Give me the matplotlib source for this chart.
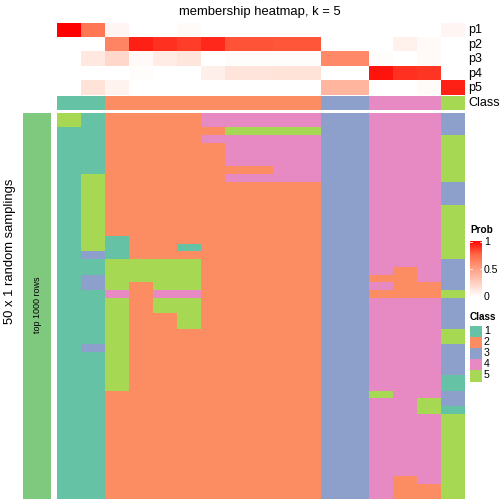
import numpy as np
import matplotlib
matplotlib.use("Agg")
import matplotlib.pyplot as plt
from matplotlib.colors import ListedColormap, LinearSegmentedColormap
from matplotlib.patches import Rectangle

plt.rcParams['font.family'] = ['Liberation Sans', 'DejaVu Sans']

# membership probabilities per sample (17 samples)
p1 = [1.0, 0.68, 0.05, 0, 0, 0.02, 0, 0, 0, 0, 0, 0, 0, 0, 0, 0, 0.05]
p2 = [0, 0, 0.62, 0.92, 0.88, 0.85, 0.9, 0.8, 0.8, 0.79, 0.79, 0, 0, 0, 0.07, 0.03, 0]
p3 = [0, 0.12, 0.2, 0.03, 0.1, 0.13, 0, 0.01, 0.01, 0.01, 0.01, 0.6, 0.6, 0.01, 0, 0.03, 0]
p4 = [0, 0, 0, 0.01, 0, 0, 0.08, 0.14, 0.14, 0.15, 0.15, 0, 0, 0.95, 0.88, 0.87, 0]
p5 = [0, 0.15, 0.06, 0, 0, 0, 0, 0, 0, 0, 0, 0.38, 0.38, 0, 0, 0.02, 0.92]
sample_class = [1, 1, 2, 2, 2, 2, 2, 2, 2, 2, 2, 3, 3, 4, 4, 4, 5]

# class of each sample in each of the 50 random samplings
samplings = [
    "51222244444334443", "51222244444334443", "11222225555334443",
    "11222244444334445", "11222224444334445", "11222224444334445",
    "11222224444334445", "11222222244334445", "15222224444334445",
    "15222222222334443", "15222222222334443", "15222222222334443",
    "15222222222334445", "15222222222334445", "15222222222334445",
    "15222222222334445", "15122222222334445", "15122122222334445",
    "13122222222334445", "11555522222334443", "11555522222334243",
    "13555522222332243", "13525522222334223", "11424422222332225",
    "11525522222334443", "11525522222334443", "11522522222334443",
    "11522522222334443", "11522222222334445", "11522222222334445",
    "13522222222334443", "11522222222334443", "11522222222334443",
    "11522222222334443", "11522222222334441", "11522222222334441",
    "11222222222335443", "11222222222334453", "11222222222334451",
    "11222222222334445", "11222222222334445", "11222222222334445",
    "11222222222334445", "11222222222334445", "11222222222334445",
    "11222222222334445", "11222222222334445", "11222222222334245",
    "11222222222334225", "11222222222334225",
]

class_colors = ['#66C2A5', '#FC8D62', '#8DA0CB', '#E78AC3', '#A6D854']
prob_cmap = LinearSegmentedColormap.from_list(
    'prob', [(0, '#FFFFFF'), (0.25, '#FFCFBF'), (0.5, '#FF9E81'),
             (0.75, '#FF6846'), (1, '#FF0000')])
class_cmap = ListedColormap(class_colors)

W = H = 504.0


def px_axes(x0, y0, x1, y1):
    # pixel box (top-left origin) -> figure axes
    ax = fig.add_axes([x0 / W, 1 - y1 / H, (x1 - x0) / W, (y1 - y0) / H])
    ax.set_axis_off()
    return ax


fig = plt.figure(figsize=(7, 7), dpi=72)

hx0, hx1 = 57, 465

# probability rows
ax_p = px_axes(hx0, 23, hx1, 95.3)
probs = np.array([p1, p2, p3, p4, p5])
ax_p.imshow(probs, cmap=prob_cmap, vmin=0, vmax=1, aspect='auto',
            interpolation='nearest')
for i, lab in enumerate(['p1', 'p2', 'p3', 'p4', 'p5']):
    fig.text(468 / W, 1 - (30.2 + 14.45 * i) / H, lab, fontsize=12.5,
             va='center', ha='left')

# class row
ax_c = px_axes(hx0, 95.7, hx1, 110)
ax_c.imshow(np.array([sample_class]) - 1, cmap=class_cmap, vmin=-0.5,
            vmax=4.5, aspect='auto', interpolation='nearest')
fig.text(468 / W, 1 - 103 / H, 'Class', fontsize=12.5, va='center', ha='left')

# main heatmap
mat = np.array([[int(c) for c in row] for row in samplings])
ax_h = px_axes(hx0, 112.7, hx1, 499)
ax_h.imshow(mat - 1, cmap=class_cmap, vmin=-0.5, vmax=4.5, aspect='auto',
            interpolation='nearest')

# left bar
ax_l = px_axes(23, 112.7, 51, 499)
ax_l.add_patch(Rectangle((0, 0), 1, 1, color='#7FC97F'))
ax_l.set_xlim(0, 1)
ax_l.set_ylim(0, 1)
fig.text(37 / W, 1 - 305 / H, 'top 1000 rows', rotation=90, fontsize=9,
         ha='center', va='center')
fig.text(10 / W, 1 - 251 / H, '50 x 1 random samplings', rotation=90,
         fontsize=13, ha='center', va='center')

fig.text(260 / W, 1 - 12 / H, 'membership heatmap, k = 5', fontsize=13,
         ha='center', va='center')

# legend: Prob
fig.text(470 / W, 1 - 230.5 / H, 'Prob', fontsize=10, fontweight='bold',
         ha='left', va='center')
ax_cb = px_axes(470, 240.5, 482, 297.5)
grad = np.linspace(1, 0, 100).reshape(-1, 1)
ax_cb.imshow(grad, cmap=prob_cmap, vmin=0, vmax=1, aspect='auto',
             extent=[0, 1, 0, 1])
ax_cb.set_xlim(0, 1)
ax_cb.set_ylim(0, 1)
for v, lab in [(1, '1'), (0.5, '0.5'), (0, '0')]:
    yy = 0.02 + v * 0.96
    ax_cb.plot([0, 0.2], [yy, yy], color='white', lw=0.8)
    ax_cb.plot([0.8, 1], [yy, yy], color='white', lw=0.8)
    fig.text(484 / W, 1 - (297.5 - v * 55.5) / H, lab, fontsize=10.5,
             ha='left', va='center')

# legend: Class
fig.text(470 / W, 1 - 317 / H, 'Class', fontsize=10, fontweight='bold',
         ha='left', va='center')
ax_cl = px_axes(470, 326, 482, 381.5)
ax_cl.set_xlim(0, 1)
ax_cl.set_ylim(5, 0)
for i, col in enumerate(class_colors):
    ax_cl.add_patch(Rectangle((0, i), 1, 1, color=col))
    fig.text(484 / W, 1 - (331 + 11.1 * i) / H, str(i + 1), fontsize=10.5,
             ha='left', va='center')

fig.savefig('out.png', dpi=72)
